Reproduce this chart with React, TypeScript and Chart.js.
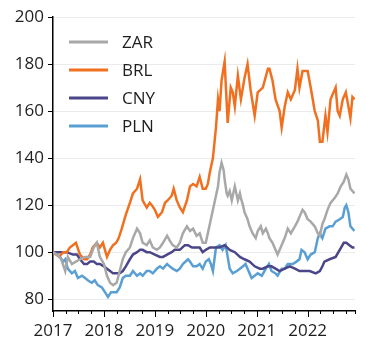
import { useEffect, useRef } from "react";
import { Chart, registerables } from "chart.js";

Chart.register(...registerables);

// ---- Data (dates in decimal years, values indexed to 100 at start of 2017) ----
const seriesNames = ["ZAR", "BRL", "CNY", "PLN"];
const seriesColors = ["#a8a8a8", "#f07020", "#4b4689", "#5a9fd4"];

const zarDates = [2017.00, 2017.08, 2017.16, 2017.24, 2017.29, 2017.37, 2017.45, 2017.53, 2017.63, 2017.73, 2017.80, 2017.86, 2017.92, 2018.00, 2018.06, 2018.12, 2018.18, 2018.25, 2018.31, 2018.37, 2018.43, 2018.51, 2018.57, 2018.65, 2018.71, 2018.76, 2018.84, 2018.90, 2018.96, 2019.04, 2019.10, 2019.16, 2019.24, 2019.29, 2019.35, 2019.43, 2019.49, 2019.55, 2019.63, 2019.69, 2019.75, 2019.82, 2019.88, 2019.94, 2020.00, 2020.04, 2020.08, 2020.12, 2020.18, 2020.24, 2020.27, 2020.31, 2020.35, 2020.37, 2020.41, 2020.43, 2020.47, 2020.51, 2020.57, 2020.61, 2020.63, 2020.67, 2020.69, 2020.73, 2020.76, 2020.82, 2020.86, 2020.92, 2020.98, 2021.02, 2021.08, 2021.12, 2021.18, 2021.22, 2021.25, 2021.31, 2021.35, 2021.41, 2021.47, 2021.55, 2021.61, 2021.67, 2021.75, 2021.80, 2021.86, 2021.90, 2021.94, 2022.00, 2022.06, 2022.14, 2022.20, 2022.24, 2022.29, 2022.33, 2022.39, 2022.45, 2022.53, 2022.59, 2022.65, 2022.71, 2022.76, 2022.80, 2022.84, 2022.88, 2022.92];
const zarValues = [100, 99, 97, 92, 98, 95, 96, 97, 98, 98, 102, 104, 98, 95, 90, 87, 86, 87, 92, 97, 100, 102, 106, 110, 108, 104, 103, 105, 102, 101, 102, 104, 107, 105, 103, 102, 104, 108, 111, 109, 110, 107, 108, 104, 104, 108, 112, 116, 122, 128, 134, 138, 135, 131, 125, 124, 126, 122, 128, 124, 122, 125, 123, 120, 117, 114, 111, 108, 106, 109, 111, 108, 110, 108, 106, 104, 102, 99, 102, 106, 110, 108, 111, 113, 116, 118, 117, 114, 113, 111, 108, 107, 112, 114, 118, 121, 123, 125, 128, 130, 133, 131, 127, 126, 125];

const brlDates = [2017.00, 2017.06, 2017.12, 2017.20, 2017.27, 2017.33, 2017.39, 2017.45, 2017.53, 2017.61, 2017.67, 2017.73, 2017.78, 2017.86, 2017.92, 2017.98, 2018.06, 2018.12, 2018.18, 2018.24, 2018.29, 2018.35, 2018.43, 2018.51, 2018.57, 2018.65, 2018.71, 2018.76, 2018.84, 2018.90, 2018.94, 2019.00, 2019.06, 2019.14, 2019.20, 2019.25, 2019.33, 2019.37, 2019.43, 2019.49, 2019.55, 2019.63, 2019.69, 2019.75, 2019.82, 2019.88, 2019.94, 2020.00, 2020.04, 2020.08, 2020.14, 2020.20, 2020.24, 2020.27, 2020.31, 2020.37, 2020.43, 2020.49, 2020.53, 2020.57, 2020.63, 2020.69, 2020.76, 2020.82, 2020.88, 2020.96, 2021.02, 2021.12, 2021.22, 2021.25, 2021.31, 2021.37, 2021.45, 2021.49, 2021.55, 2021.61, 2021.67, 2021.75, 2021.80, 2021.84, 2021.90, 2022.00, 2022.06, 2022.14, 2022.20, 2022.24, 2022.29, 2022.35, 2022.39, 2022.45, 2022.55, 2022.59, 2022.63, 2022.69, 2022.75, 2022.80, 2022.84, 2022.88, 2022.92];
const brlValues = [100, 99, 98, 100, 100, 102, 103, 104, 99, 97, 97, 99, 102, 104, 102, 104, 98, 101, 103, 104, 106, 110, 116, 121, 125, 127, 131, 122, 119, 121, 120, 118, 115, 117, 121, 122, 124, 127, 122, 119, 117, 122, 128, 129, 128, 132, 127, 127, 129, 134, 140, 153, 165, 160, 173, 181, 155, 170, 168, 162, 175, 165, 174, 180, 169, 158, 168, 170, 178, 178, 173, 165, 160, 153, 162, 168, 165, 169, 178, 170, 177, 177, 170, 160, 156, 147, 147, 158, 151, 165, 170, 160, 158, 165, 168, 162, 157, 166, 165];

const cnyDates = [2017.00, 2017.14, 2017.27, 2017.39, 2017.47, 2017.53, 2017.61, 2017.67, 2017.73, 2017.80, 2017.86, 2017.92, 2018.00, 2018.06, 2018.12, 2018.18, 2018.25, 2018.31, 2018.37, 2018.43, 2018.51, 2018.57, 2018.65, 2018.71, 2018.76, 2018.84, 2018.90, 2019.00, 2019.10, 2019.16, 2019.24, 2019.33, 2019.39, 2019.49, 2019.59, 2019.65, 2019.73, 2019.80, 2019.88, 2019.94, 2020.00, 2020.08, 2020.18, 2020.27, 2020.37, 2020.47, 2020.57, 2020.67, 2020.76, 2020.86, 2020.96, 2021.06, 2021.12, 2021.22, 2021.29, 2021.37, 2021.45, 2021.55, 2021.65, 2021.75, 2021.84, 2021.94, 2022.04, 2022.16, 2022.24, 2022.29, 2022.33, 2022.43, 2022.55, 2022.63, 2022.71, 2022.76, 2022.82, 2022.88, 2022.92];
const cnyValues = [100, 100, 100, 99, 99, 97, 95, 95, 96, 96, 95, 95, 94, 93, 92, 91, 91, 91, 92, 94, 97, 99, 100, 101, 101, 100, 100, 99, 98, 98, 99, 100, 101, 101, 103, 103, 102, 102, 102, 100, 101, 102, 102, 102, 103, 101, 100, 98, 97, 96, 94, 93, 93, 94, 94, 93, 92, 93, 94, 93, 92, 92, 92, 91, 92, 94, 96, 97, 98, 101, 104, 104, 103, 102, 102];

const plnDates = [2017.00, 2017.08, 2017.14, 2017.20, 2017.24, 2017.29, 2017.37, 2017.43, 2017.49, 2017.57, 2017.63, 2017.69, 2017.76, 2017.82, 2017.88, 2017.96, 2018.02, 2018.08, 2018.14, 2018.20, 2018.25, 2018.31, 2018.37, 2018.43, 2018.51, 2018.57, 2018.65, 2018.71, 2018.76, 2018.84, 2018.90, 2018.96, 2019.04, 2019.10, 2019.16, 2019.24, 2019.29, 2019.35, 2019.43, 2019.49, 2019.55, 2019.65, 2019.69, 2019.75, 2019.82, 2019.88, 2019.94, 2020.00, 2020.06, 2020.10, 2020.14, 2020.20, 2020.27, 2020.33, 2020.39, 2020.43, 2020.47, 2020.53, 2020.61, 2020.67, 2020.73, 2020.78, 2020.84, 2020.90, 2020.96, 2021.02, 2021.10, 2021.18, 2021.24, 2021.29, 2021.37, 2021.41, 2021.49, 2021.55, 2021.61, 2021.71, 2021.78, 2021.84, 2021.88, 2021.94, 2022.00, 2022.06, 2022.14, 2022.20, 2022.24, 2022.29, 2022.35, 2022.43, 2022.49, 2022.55, 2022.63, 2022.69, 2022.73, 2022.76, 2022.80, 2022.84, 2022.88, 2022.92];
const plnValues = [100, 99, 98, 96, 97, 93, 91, 92, 89, 90, 89, 88, 87, 88, 86, 85, 83, 81, 83, 83, 83, 85, 89, 90, 90, 92, 90, 91, 90, 92, 92, 91, 93, 94, 93, 95, 94, 93, 92, 93, 95, 97, 96, 94, 94, 95, 93, 96, 97, 95, 92, 102, 103, 101, 103, 98, 93, 91, 92, 93, 94, 95, 92, 89, 90, 91, 90, 93, 95, 92, 91, 90, 93, 93, 95, 95, 96, 97, 101, 100, 97, 99, 100, 106, 108, 106, 110, 111, 111, 113, 114, 115, 119, 120, 117, 111, 110, 109, 109];

const yearLabels = [2017, 2018, 2019, 2020, 2021, 2022];
const yTickValues = [80, 100, 120, 140, 160, 180, 200];
const yMin = 75;
const yMax = 200;
const xMax = 2022.93;

const seriesDates = [zarDates, brlDates, cnyDates, plnDates];
const seriesValues = [zarValues, brlValues, cnyValues, plnValues];

const FONT = "'Open Sans', sans-serif";

const isWhole = (n: number) => Math.abs(n - Math.round(n)) < 1e-6;

const insideLegend = {
  id: "insideLegend",
  afterDatasetsDraw(chart: any) {
    const { ctx, chartArea } = chart;
    ctx.save();
    chart.data.datasets.forEach((ds: any, i: number) => {
      const y = chartArea.top + 25 + i * 28;
      const x0 = chartArea.left + 16;
      ctx.strokeStyle = ds.borderColor;
      ctx.lineWidth = 3;
      ctx.beginPath();
      ctx.moveTo(x0, y);
      ctx.lineTo(x0 + 39, y);
      ctx.stroke();
      ctx.fillStyle = "#1e1e1e";
      ctx.font = `17px ${FONT}`;
      ctx.textBaseline = "middle";
      ctx.textAlign = "left";
      ctx.fillText(ds.label, x0 + 53, y + 1);
    });
    ctx.restore();
  },
};

// Draw x-axis tick marks: long at years, short at quarters
const xTickMarks = {
  id: "xTickMarks",
  afterDraw(chart: any) {
    const { ctx } = chart;
    const sx = chart.scales.x;
    const yb = chart.chartArea.bottom;
    ctx.save();
    ctx.strokeStyle = "#000";
    ctx.lineWidth = 1;
    sx.ticks.forEach((t: any) => {
      const px = Math.round(sx.getPixelForValue(t.value)) + 0.5;
      const len = isWhole(t.value) ? 6 : 3;
      ctx.beginPath();
      ctx.moveTo(px, yb);
      ctx.lineTo(px, yb + len);
      ctx.stroke();
    });
    ctx.restore();
  },
};

export default function App() {
  const ref = useRef<HTMLCanvasElement>(null);

  useEffect(() => {
    const canvas = ref.current;
    if (!canvas) return;
    const xTicks: number[] = [];
    yearLabels.forEach((yr) => {
      [0, 0.25, 0.5, 0.75].forEach((q) => xTicks.push(yr + q));
    });
    xTicks.push(xMax);

    const chart = new Chart(canvas, {
      type: "line",
      data: {
        datasets: seriesNames.map((name, i) => ({
          label: name,
          data: seriesDates[i].map((d, j) => ({ x: d, y: seriesValues[i][j] })),
          borderColor: seriesColors[i],
          backgroundColor: seriesColors[i],
          borderWidth: 2.5,
          pointRadius: 0,
          tension: 0,
          fill: false,
        })),
      },
      options: {
        animation: false,
        responsive: false,
        layout: { padding: { top: 17, right: 11, left: 0, bottom: 0 } },
        plugins: {
          legend: { display: false },
          tooltip: { enabled: false },
        },
        scales: {
          x: {
            type: "linear",
            min: 2017,
            max: xMax,
            afterBuildTicks: (s: any) => {
              s.ticks = xTicks.map((v) => ({ value: v }));
            },
            afterFit: (s: any) => {
              s.height = 41;
            },
            ticks: {
              autoSkip: false,
              maxRotation: 0,
              padding: 4,
              color: "#1e1e1e",
              font: { family: FONT, size: 17 },
              callback: (v: any) => {
                const n = Number(v);
                return isWhole(n) ? String(Math.round(n)) : "";
              },
            },
            grid: {
              drawOnChartArea: false,
              tickLength: 6,
              tickColor: "rgba(0,0,0,0)",
              color: "rgba(0,0,0,0)",
            },
            border: { display: true, color: "#000", width: 1.5 },
          },
          y: {
            type: "linear",
            min: yMin,
            max: yMax,
            afterBuildTicks: (s: any) => {
              s.ticks = yTickValues.map((v) => ({ value: v }));
            },
            afterFit: (s: any) => {
              s.width = 53;
            },
            ticks: {
              padding: 4,
              color: "#1e1e1e",
              font: { family: FONT, size: 17 },
            },
            grid: {
              color: "#ebebeb",
              lineWidth: 1,
              tickLength: 5,
              tickColor: "#000",
            },
            border: { display: true, color: "#000", width: 1.5 },
          },
        },
      },
      plugins: [insideLegend, xTickMarks],
    });
    return () => chart.destroy();
  }, []);

  return (
    <div style={{ position: "absolute", left: 0, top: 0, width: 366, height: 352, background: "#fff" }}>
      <canvas ref={ref} width={366} height={352} style={{ width: 366, height: 352, display: "block" }} />
    </div>
  );
}
